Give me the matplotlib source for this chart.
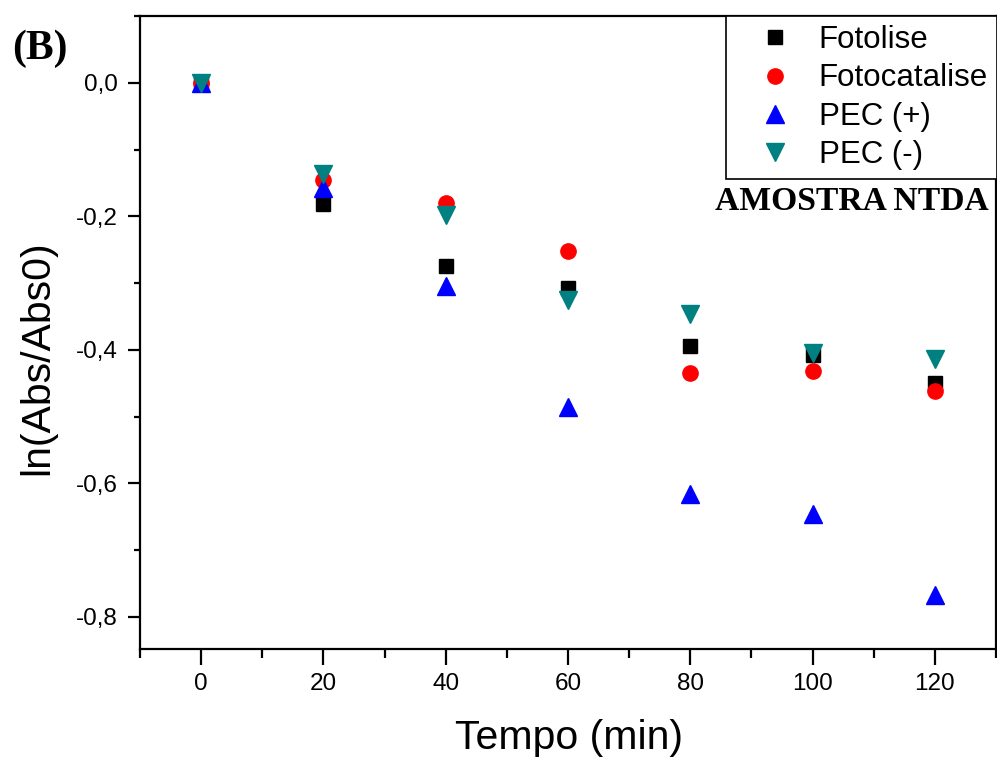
import matplotlib
matplotlib.use("Agg")
import matplotlib.pyplot as plt
from matplotlib.ticker import MultipleLocator, FuncFormatter

# valores (B) - amostra NTDA
tempo = [0, 20, 40, 60, 80, 100, 120]
fotolise = [0.0, -0.181, -0.275, -0.308, -0.394, -0.408, -0.449]
fotocatalise = [0.0, -0.145, -0.180, -0.252, -0.435, -0.432, -0.462]
pec_pos = [0.0, -0.157, -0.305, -0.486, -0.616, -0.646, -0.767]
pec_neg = [0.0, -0.137, -0.198, -0.325, -0.346, -0.404, -0.413]

plt.rcParams['font.family'] = ['Liberation Sans', 'DejaVu Sans']

fig = plt.figure(figsize=(9.97, 7.6), dpi=100)
ax = fig.add_axes([0.1404, 0.146, 0.8586, 0.833])

ax.plot(tempo, fotolise, 's', color='black', markersize=9.5, label='Fotolise', linestyle='none')
ax.plot(tempo, fotocatalise, 'o', color='#ff0000', markersize=11, label='Fotocatalise', linestyle='none')
ax.plot(tempo, pec_pos, '^', color='#0000ff', markersize=12.5, label='PEC (+)', linestyle='none')
ax.plot(tempo, pec_neg, 'v', color='#008080', markersize=12.5, label='PEC (-)', linestyle='none')

ax.set_xlim(-10, 130)
ax.set_ylim(-0.848, 0.1)

ax.xaxis.set_major_locator(MultipleLocator(20))
ax.xaxis.set_minor_locator(MultipleLocator(10))
ax.yaxis.set_major_locator(MultipleLocator(0.2))
ax.yaxis.set_minor_locator(MultipleLocator(0.1))
ax.yaxis.set_major_formatter(FuncFormatter(lambda v, p: ('%.1f' % v).replace('.', ',')))

for s in ax.spines.values():
    s.set_linewidth(1.6)

ax.tick_params(axis='x', which='major', direction='out', length=11.5, width=1.6, labelsize=17.5, pad=6)
ax.tick_params(axis='x', which='minor', direction='out', length=6.5, width=1.6)
ax.tick_params(axis='y', which='major', direction='out', length=9, width=1.6, labelsize=17.5, pad=7)
ax.tick_params(axis='y', which='minor', direction='out', length=4.5, width=1.6)

ax.set_xlabel('Tempo (min)', fontsize=29.5)
ax.set_ylabel('ln(Abs/Abs0)', fontsize=29.5)
ax.xaxis.set_label_coords(0.501, -0.14)
ax.yaxis.set_label_coords(-0.12, 0.46)
ax.xaxis.label.set_va('center')
ax.yaxis.label.set_va('center')

leg = ax.legend(loc='upper left', bbox_to_anchor=(0.685, 1.0), fontsize=22.5,
                frameon=True, fancybox=False, framealpha=1, edgecolor='black',
                borderaxespad=0, borderpad=0.3, labelspacing=0.26,
                handlelength=2.5, handletextpad=0.16)
leg.get_frame().set_linewidth(1.2)

fig.text(0.012, 0.936, '(B)', fontsize=30, fontweight='bold',
         family='Liberation Serif', va='center', ha='left')
ax.text(0.991, 0.707, 'AMOSTRA NTDA', transform=ax.transAxes, fontsize=24.2,
        fontweight='bold', family='Liberation Serif', ha='right', va='center')

fig.savefig('out.png', dpi=100)
